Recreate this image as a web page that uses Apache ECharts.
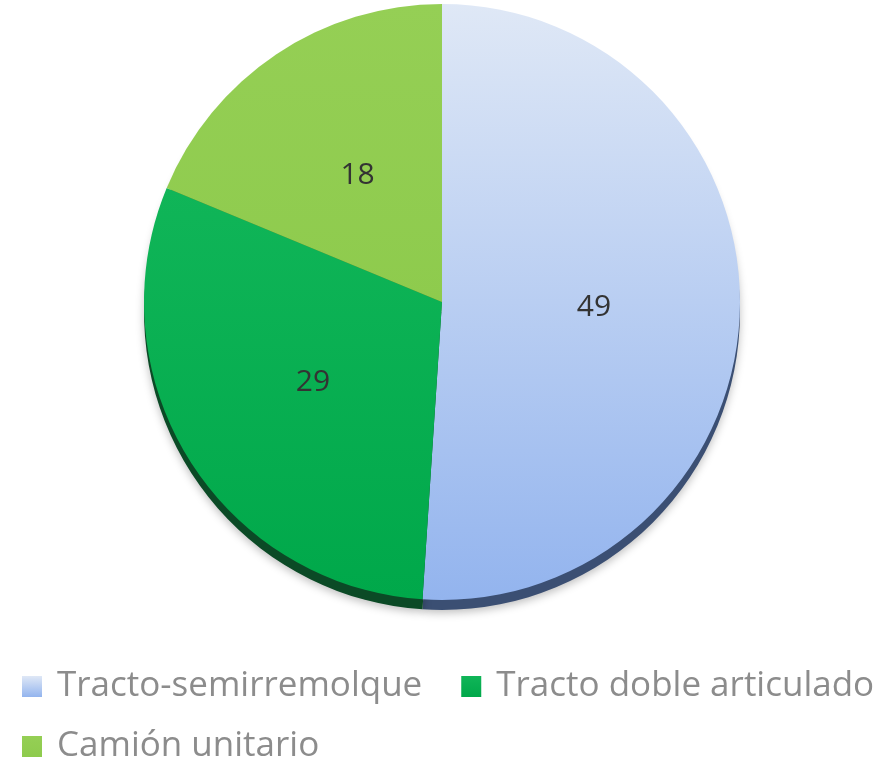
<!DOCTYPE html>
<html>
<head>
<meta charset="utf-8">
<script src="https://cdn.jsdelivr.net/npm/echarts@6/dist/echarts.min.js"></script>
<style>
  html, body { margin: 0; padding: 0; background: #fff; }
  #chart { width: 889px; height: 766px; }
</style>
</head>
<body>
<div id="chart"></div>
<script>
const categories = ['Tracto-semirremolque', 'Tracto doble articulado', 'Camión unitario']
const values = [49, 29, 18]

const topColors = [
  { type: 'linear', x: 0, y: 0, x2: 0, y2: 1, colorStops: [{ offset: 0, color: '#dfe8f6' }, { offset: 1, color: '#93b4ee' }] },
  { type: 'linear', x: 0, y: 0, x2: 0, y2: 1, colorStops: [{ offset: 0, color: '#10b558' }, { offset: 1, color: '#00a84a' }] },
  { type: 'linear', x: 0, y: 0, x2: 0, y2: 1, colorStops: [{ offset: 0, color: '#95cf55' }, { offset: 1, color: '#8ecb4d' }] },
]
const rimColors = ['#3b4f73', '#0b4a26', '#4d7a26']

const legendBase = {
  left: 22,
  width: 867,
  padding: 0,
  itemWidth: 20,
  itemHeight: 21,
  itemGap: 39,
  icon: 'rect',
  textStyle: { fontFamily: 'Open Sans', fontSize: 35, color: '#8c8c8c', padding: [0, 0, 0, 10] },
}

const chart = echarts.init(document.getElementById('chart'))

chart.setOption({
  animation: false,
  legend: [
    Object.assign({}, legendBase, { top: 669, data: categories.slice(0, 2) }),
    Object.assign({}, legendBase, { top: 729, data: categories.slice(2) }),
  ],
  series: [
    {
      // darker rim underneath to mimic the 3D edge
      type: 'pie',
      silent: true,
      center: [442, 312],
      radius: 298,
      startAngle: 90,
      clockwise: true,
      label: { show: false },
      labelLine: { show: false },
      data: categories.map((c, i) => ({ name: c + ' ', value: values[i], itemStyle: { color: rimColors[i] } })),
      itemStyle: { shadowBlur: 8, shadowColor: 'rgba(0,0,0,0.25)', shadowOffsetY: 3 },
    },
    {
      type: 'pie',
      center: [442, 302],
      radius: 298,
      startAngle: 90,
      clockwise: true,
      label: {
        show: true,
        position: 'inside',
        formatter: '{c}',
        fontFamily: 'Open Sans',
        fontSize: 30,
        color: '#333',
      },
      labelLine: { show: false },
      data: categories.map((c, i) => ({ name: c, value: values[i], itemStyle: { color: topColors[i] } })),
    },
  ],
})
</script>
</body>
</html>
